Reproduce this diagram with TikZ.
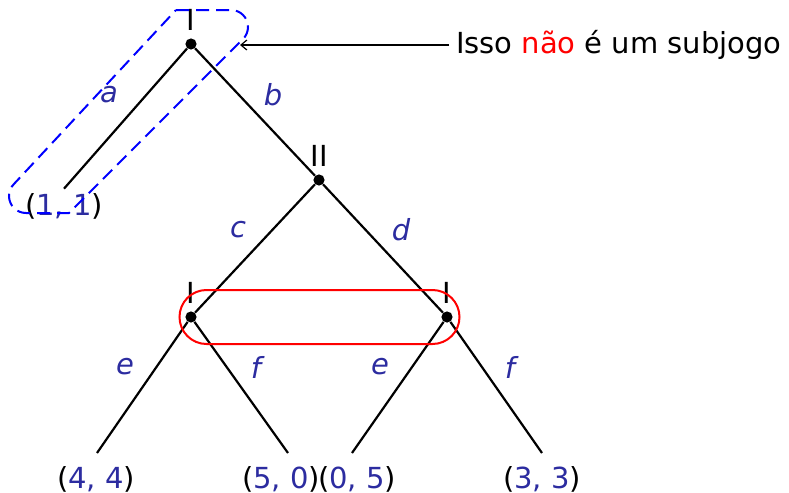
\documentclass[tikz,border=0pt]{standalone}
\usepackage{fontspec}
\setmainfont{DejaVu Sans}
\usepackage{tikz}
\usetikzlibrary{positioning, arrows.meta}
\definecolor{payBlue}{HTML}{2C2CA0}

\begin{document}
\begin{tikzpicture}[
        x=0.5pt, y=-0.5pt,
        font=\fontsize{14.5}{17}\selectfont,
        >={Straight Barb[length=3pt,width=5pt]},
        dec/.style={circle, fill=black, inner sep=0pt, minimum size=5.6pt},
        plabel/.style={inner sep=0pt},
        elabel/.style={text=payBlue, font=\fontsize{14.5}{17}\selectfont\itshape},
        payoff/.style={inner sep=2pt},
        branch/.style={draw=black, line width=1.1pt},
        infoset/.style={draw=red, line width=1pt, rounded corners=13.5pt,
                        minimum width=140pt, minimum height=27pt},
        subset/.style={draw=blue, dash pattern=on 6.5pt off 3.5pt,
                       line width=1pt},
        pointer/.style={->, draw=black, line width=0.6pt},
      ]
      \useasboundingbox (0,0) rectangle (789,493);
      % decision nodes
      \node[dec] (root) at (191,44) {};
      \node[dec] (n2)   at (319,180) {};
      \node[dec] (n1l)  at (191,317) {};
      \node[dec] (n1r)  at (447,317) {};
      \node[plabel, above=3.5pt of root] (proot) {I};
      \node[plabel, above=3.5pt of n2]   (pn2)   {II};
      \node[plabel, above=3.5pt of n1l]  (pn1l)  {I};
      \node[plabel, above=3.5pt of n1r]  (pn1r)  {I};
      % payoffs
      \node[payoff] (z0) at (64,206)  {(\textcolor{payBlue}{1, 1})};
      \node[payoff] (z1) at (96,479)  {(\textcolor{payBlue}{4, 4})};
      \node[payoff] (z2) at (281,479) {(\textcolor{payBlue}{5, 0})};
      \node[payoff] (z3) at (357,479) {(\textcolor{payBlue}{0, 5})};
      \node[payoff] (z4) at (542,479) {(\textcolor{payBlue}{3, 3})};
      \coordinate (e1) at (97,453);
      \coordinate (e2) at (288,453);
      \coordinate (e3) at (352,453);
      \coordinate (e4) at (542,453);
      % branches
      \draw[branch] (root) -- (z0.north);
      \draw[branch] (root) -- (n2);
      \draw[branch] (n2)   -- (n1l);
      \draw[branch] (n2)   -- (n1r);
      \draw[branch] (n1l)  -- (e1);
      \draw[branch] (n1l)  -- (e2);
      \draw[branch] (n1r)  -- (e3);
      \draw[branch] (n1r)  -- (e4);
      % actions
      \node[elabel] (la)  at (109,95)  {a};
      \node[elabel] (lb)  at (273,95)  {b};
      \node[elabel] (lc)  at (238,230) {c};
      \node[elabel] (ld)  at (401,230) {d};
      \node[elabel] (le1) at (125,367) {e};
      \node[elabel] (lf1) at (256,367) {f};
      \node[elabel] (le2) at (380,367) {e};
      \node[elabel] (lf2) at (510,367) {f};
      % information set
      \node[infoset] (h1) at (319.5,317) {};
      % box round the part that is not a subgame
      \coordinate (sga) at (176,10);
      \coordinate (sgb) at (231,10);
      \coordinate (sgc) at (69,213);
      \coordinate (sgd) at (26,213);
      \draw[subset] (sga) -- (sgb)
        arc[start angle=90, end angle=-45, radius=8.5pt] -- (sgc) -- (sgd)
        arc[start angle=-90, end angle=-225, radius=8.5pt] -- cycle;
      \node[anchor=west] (note) at (449,45)
        {Isso \textcolor{red}{não} é um subjogo};
      \coordinate (tip) at (240,45);
      \draw[pointer] (note.west) -- (tip);
    \end{tikzpicture}
\end{document}
